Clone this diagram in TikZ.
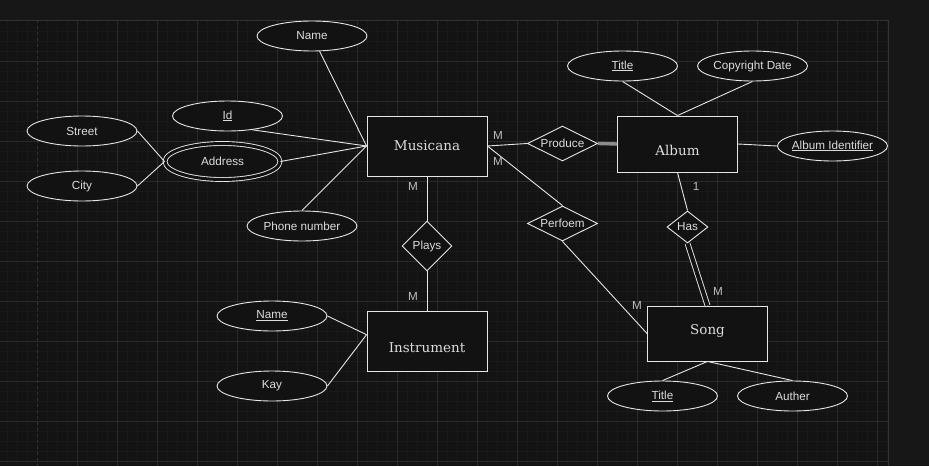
\documentclass[tikz,border=0pt]{standalone}
\usepackage{fontspec}
\setmainfont{Liberation Sans}
\newfontfamily\entfont{DejaVu Serif}
\usepackage{tikz}
\usetikzlibrary{shapes.geometric, positioning}

\definecolor{bgout}{HTML}{171717}
\definecolor{bgcanvas}{HTML}{131313}
\definecolor{minorclr}{HTML}{191919}
\definecolor{majorclr}{HTML}{2A2A2A}
\definecolor{borderclr}{HTML}{323232}
\definecolor{lineclr}{HTML}{E6E6E6}
\definecolor{shapefill}{HTML}{121212}
\definecolor{textclr}{HTML}{DCDCDC}
\definecolor{cardclr}{HTML}{BDBDBD}
\definecolor{thickclr}{HTML}{8C8C8C}

\begin{document}
\begin{tikzpicture}[x=1pt, y=-1pt, font=\fontsize{11.7}{14}\selectfont,
	entity/.style={draw=lineclr, fill=shapefill, line width=0.9pt, rectangle, minimum width=120pt, minimum height=60pt, inner sep=0pt, text=textclr, font=\entfont\fontsize{13.5}{16}\selectfont},
	attr/.style={draw=lineclr, fill=shapefill, line width=0.9pt, ellipse, minimum width=110pt, minimum height=30pt, inner xsep=-10pt, inner ysep=0pt, text=textclr},
	rel/.style={draw=lineclr, fill=shapefill, line width=0.9pt, diamond, inner sep=0pt, text=textclr},
	conn/.style={draw=lineclr, line width=0.9pt},
	thickconn/.style={draw=thickclr, line width=3.4pt},
	dblconn/.style={draw=lineclr, line width=0.9pt, double=bgcanvas, double distance=4pt},
	card/.style={text=cardclr, inner sep=0pt},
	minorgrid/.style={draw=minorclr, line width=0.8pt},
	majorgrid/.style={draw=majorclr, line width=0.8pt}]
	\useasboundingbox (0,0) rectangle (929,466);
	% canvas and grid
	\fill[bgout] (0,0) rectangle (929,466);
	\fill[bgcanvas] (0,20) rectangle (888,466);
	\foreach \gx in {7,17,...,887} \draw[minorgrid] (\gx,20) -- (\gx,466);
	\foreach \gy in {31,41,...,461} \draw[minorgrid] (0,\gy) -- (888,\gy);
	\foreach \gx in {77,117,...,877} \draw[majorgrid] (\gx,20) -- (\gx,466);
	\foreach \gy in {61,101,...,461} \draw[majorgrid] (0,\gy) -- (888,\gy);
	\draw[draw=borderclr, dashed, line width=0.8pt] (37,20) -- (37,466);
	\draw[draw=borderclr, line width=1pt] (0,20) -- (888,20) -- (888,466);

	% entities
	\node[entity] (musicana) at (427,146) {Musicana};
	\node[entity, text height=22pt, text depth=0pt] (instrument) at (427,341) {Instrument};
	\node[entity, minimum height=56pt, text height=22pt, text depth=0pt] (album) at (677.5,144) {Album};
	\node[entity, minimum height=55pt, text height=10pt, text depth=9pt] (song) at (707.5,333.5) {Song};

	% relationships
	\node[rel, minimum width=50pt, minimum height=50pt] (plays) at (427,246) {Plays};
	\node[rel, aspect=2, minimum width=70pt, minimum height=35pt] (produce) at (562.5,143.5) {Produce};
	\node[rel, aspect=2, minimum width=70pt, minimum height=35pt] (perfoem) at (562.5,223.5) {Perfoem};
	\node[rel, minimum width=41pt, minimum height=32pt] (has) at (687.5,227) {Has};

	% attributes
	\foreach \N/\X/\Y/\T in {name/312/36/Name,
							 id/227.5/116/\underline{Id},
							 street/82/131/Street,
							 city/82/186/City,
							 phone/302/226/Phone number,
							 iname/272/316/\underline{Name},
							 kay/272/386/Kay,
							 atitle/622.5/66/\underline{Title},
							 copyright/752.5/66/Copyright Date,
							 aid/832.5/146/\underline{Album Identifier},
							 stitle/662.5/396/\underline{Title},
							 auther/792.5/396/Auther} {
		\node[attr] (\N) at (\X,\Y) {\T};
	}
	\node[attr, minimum width=115pt, minimum height=36pt, double=shapefill, double distance=3pt] (address) at (222.5,161.5) {Address};

	% connectors
	\draw[conn] (name) -- (musicana.west);
	\draw[conn] (id.-29) -- (musicana.west);
	\draw[conn] (address.east) -- (musicana.west);
	\draw[conn] (phone.north) -- (musicana.west);
	\draw[conn] (street.east) -- (address.west);
	\draw[conn] (city.east) -- (address.west);
	\draw[conn] (musicana.south) -- (plays.north);
	\draw[conn] (plays.south) -- (instrument.north);
	\draw[conn] (iname.east) -- (instrument.174);
	\draw[conn] (kay.east) -- (instrument.174);
	\draw[conn] (musicana.east) -- (produce.west);
	\draw[thickconn] (produce.east) -- (album.west);
	\draw[conn] (musicana.east) -- (perfoem.north);
	\draw[conn] (perfoem.south) -- (song.west);
	\draw[conn] (album.south) -- (has.north);
	\draw[dblconn] (has.south) -- (song.north);
	\draw[conn] (atitle.south) -- (album.north);
	\draw[conn] (copyright.south) -- (album.north);
	\draw[conn] (album.east) -- (aid.west);
	\draw[conn] (song.south) -- (stitle.north);
	\draw[conn] (song.south) -- (auther.north);

	% cardinalities
	\node[card] (cmplays) at (413,186) {M};
	\node[card] (cplaysi) at (413,296) {M};
	\node[card] (cmprod) at (498,135) {M};
	\node[card] (cmperf) at (498,161) {M};
	\node[card] (cperfs) at (637,305) {M};
	\node[card] (calbum) at (696,186) {1};
	\node[card] (chass) at (718,291) {M};
\end{tikzpicture}
\end{document}
